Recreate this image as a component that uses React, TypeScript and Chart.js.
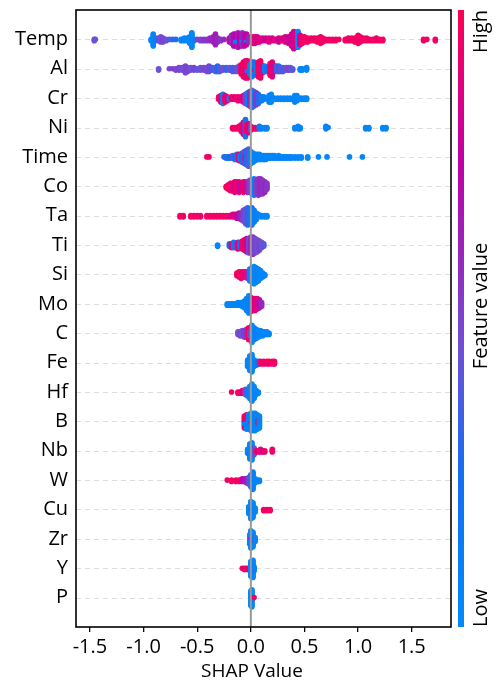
import React, { useEffect, useRef } from "react";
import { Chart, registerables } from "chart.js";

Chart.register(...registerables);

const FONT = '"Open Sans", "DejaVu Sans", sans-serif';

const features = ["Temp", "Al", "Cr", "Ni", "Time", "Co", "Ta", "Ti", "Si", "Mo", "C", "Fe", "Hf", "B", "Nb", "W", "Cu", "Zr", "Y", "P"];
const xTickValues = [-1.5, -1.0, -0.5, 0.0, 0.5, 1.0, 1.5];
const xAxisTitle = "SHAP Value";
const colorbarLabels = ["High", "Feature value", "Low"];

// each entry: [SHAP value, number of samples at that value, normalised feature value 0..1]
const tempPts = [
  [-1.46, 2, 0.45], [-1.45, 1, 0.45],
  [-0.93, 2, 0.05], [-0.91, 10, 0.05], [-0.89, 3, 0.1], [-0.86, 3, 0.4], [-0.84, 5, 0.45], [-0.82, 4, 0.5], [-0.79, 2, 0.45], [-0.76, 1, 0.4], [-0.73, 1, 0.3], [-0.7, 1, 0.3],
  [-0.65, 2, 0.05], [-0.62, 3, 0.05], [-0.59, 3, 0.05], [-0.57, 6, 0.05], [-0.55, 12, 0.05], [-0.53, 2, 0.05],
  [-0.5, 1, 0.5], [-0.47, 2, 0.5], [-0.44, 2, 0.55], [-0.41, 2, 0.55], [-0.38, 3, 0.6], [-0.35, 5, 0.6], [-0.33, 9, 0.65], [-0.31, 4, 0.6], [-0.28, 2, 0.55], [-0.25, 1, 0.6],
  [-0.2, 4, 0.7], [-0.18, 7, 0.6], [-0.16, 10, 0.7], [-0.14, 6, 0.75], [-0.14, 4, 0.1], [-0.12, 8, 0.65], [-0.12, 4, 0.1], [-0.1, 10, 0.75], [-0.08, 8, 0.6], [-0.08, 3, 0.1], [-0.06, 10, 0.7], [-0.04, 6, 0.8], [-0.04, 3, 0.1], [-0.02, 5, 0.6],
  [0.02, 6, 0.85], [0.04, 6, 0.9], [0.06, 5, 0.8], [0.08, 4, 0.9], [0.11, 3, 0.85], [0.14, 3, 0.8], [0.17, 4, 0.9], [0.2, 3, 0.85], [0.23, 2, 0.9], [0.26, 4, 0.8], [0.29, 3, 0.9], [0.32, 5, 0.85], [0.35, 6, 0.8],
  [0.38, 10, 0.85], [0.4, 14, 0.8], [0.42, 12, 0.9], [0.44, 13, 0.05], [0.46, 8, 0.85], [0.48, 6, 0.95],
  [0.5, 5, 0.95], [0.53, 4, 0.95], [0.56, 3, 0.95], [0.59, 3, 0.95], [0.62, 4, 0.95], [0.65, 6, 0.95], [0.67, 4, 0.95], [0.7, 2, 0.95], [0.73, 2, 0.95], [0.76, 2, 0.95], [0.79, 2, 0.95], [0.82, 1, 0.95],
  [0.88, 2, 0.95], [0.91, 3, 0.95], [0.94, 3, 0.95], [0.97, 4, 0.95], [1.0, 7, 0.95], [1.02, 5, 0.95], [1.05, 3, 0.95], [1.08, 3, 0.95], [1.11, 2, 0.95], [1.14, 2, 0.95], [1.17, 3, 0.95], [1.2, 2, 0.95], [1.23, 2, 0.95],
  [1.61, 2, 0.95], [1.64, 1, 0.95], [1.72, 2, 0.95],
];

const alPts = [
  [-0.86, 2, 0.45],
  [-0.76, 1, 0.5], [-0.73, 1, 0.5], [-0.7, 2, 0.5], [-0.67, 3, 0.5], [-0.64, 3, 0.45], [-0.61, 6, 0.5], [-0.59, 4, 0.5], [-0.56, 3, 0.45], [-0.53, 3, 0.5], [-0.5, 2, 0.4],
  [-0.47, 3, 0.45], [-0.44, 3, 0.5], [-0.41, 4, 0.45], [-0.39, 5, 0.5], [-0.36, 3, 0.3], [-0.33, 4, 0.45], [-0.31, 5, 0.25], [-0.29, 4, 0.4], [-0.26, 3, 0.45], [-0.23, 3, 0.3],
  [-0.2, 3, 0.45], [-0.17, 4, 0.35], [-0.14, 4, 0.45], [-0.11, 5, 0.4],
  [-0.09, 8, 0.95], [-0.07, 12, 0.95], [-0.05, 14, 0.9], [-0.03, 10, 0.95], [-0.03, 4, 0.1], [-0.01, 8, 0.1], [0.01, 12, 0.1], [0.03, 8, 0.2], [0.03, 3, 0.9], [0.05, 6, 0.1],
  [0.07, 12, 0.95], [0.09, 14, 0.95], [0.11, 6, 0.9], [0.13, 5, 0.1], [0.15, 4, 0.2], [0.18, 10, 0.95], [0.2, 12, 0.9], [0.22, 5, 0.85],
  [0.24, 5, 0.4], [0.26, 5, 0.3], [0.28, 4, 0.45], [0.3, 4, 0.35], [0.33, 3, 0.45], [0.35, 3, 0.5], [0.37, 3, 0.45], [0.39, 2, 0.4],
  [0.46, 2, 0.1], [0.48, 2, 0.05], [0.52, 3, 0.05],
];

const crPts = [
  [-0.3, 3, 0.95], [-0.28, 6, 0.9], [-0.26, 8, 0.1], [-0.24, 6, 0.95], [-0.22, 4, 0.9], [-0.2, 2, 0.1], [-0.18, 3, 0.95], [-0.15, 3, 0.9], [-0.12, 4, 0.95], [-0.09, 4, 0.85],
  [-0.07, 6, 0.9], [-0.05, 8, 0.5], [-0.03, 10, 0.1], [-0.01, 12, 0.6], [0.01, 14, 0.45], [0.03, 12, 0.1], [0.05, 10, 0.55], [0.07, 8, 0.3],
  [0.1, 4, 0.1], [0.12, 3, 0.1], [0.17, 6, 0.05], [0.19, 7, 0.05], [0.22, 2, 0.05], [0.25, 2, 0.05], [0.28, 2, 0.05], [0.31, 2, 0.05], [0.34, 2, 0.05], [0.37, 2, 0.05],
  [0.41, 6, 0.05], [0.43, 5, 0.05], [0.47, 2, 0.05], [0.5, 2, 0.05], [0.52, 2, 0.05],
];

const niPts = [
  [-0.17, 2, 0.95], [-0.15, 2, 0.95], [-0.13, 2, 0.95], [-0.11, 3, 0.95], [-0.09, 6, 0.95], [-0.07, 10, 0.9], [-0.05, 14, 0.2], [-0.04, 6, 0.95], [-0.02, 8, 0.9], [0.0, 4, 0.5],
  [0.02, 2, 0.95], [0.04, 2, 0.95], [0.06, 2, 0.95], [0.08, 3, 0.1], [0.1, 2, 0.1], [0.13, 2, 0.05], [0.15, 2, 0.05],
  [0.41, 2, 0.05], [0.44, 3, 0.05], [0.46, 2, 0.05], [0.7, 3, 0.05], [0.72, 1, 0.05], [1.07, 2, 0.05], [1.1, 2, 0.05], [1.23, 2, 0.05], [1.26, 2, 0.05],
];

const timePts = [
  [-0.41, 1, 0.95], [-0.39, 1, 0.95],
  [-0.25, 1, 0.3], [-0.23, 2, 0.2], [-0.21, 2, 0.3], [-0.19, 2, 0.25], [-0.17, 3, 0.4], [-0.15, 4, 0.2], [-0.13, 5, 0.3], [-0.11, 6, 0.95], [-0.1, 4, 0.1],
  [-0.08, 8, 0.25], [-0.06, 10, 0.5], [-0.05, 4, 0.95], [-0.04, 12, 0.2], [-0.02, 14, 0.4], [0.0, 10, 0.1], [0.02, 8, 0.05], [0.04, 6, 0.05], [0.06, 5, 0.05],
  [0.08, 5, 0.05], [0.1, 4, 0.05], [0.12, 4, 0.05], [0.14, 4, 0.05], [0.16, 3, 0.05], [0.18, 3, 0.05], [0.2, 3, 0.05], [0.22, 3, 0.05], [0.24, 2, 0.05], [0.26, 3, 0.05],
  [0.28, 2, 0.05], [0.3, 2, 0.05], [0.32, 2, 0.05], [0.34, 2, 0.05], [0.36, 2, 0.05], [0.38, 2, 0.05], [0.41, 2, 0.05], [0.44, 2, 0.05], [0.47, 2, 0.05],
  [0.53, 2, 0.05], [0.63, 1, 0.05], [0.71, 1, 0.05], [0.92, 1, 0.05], [1.04, 1, 0.05],
];

const coPts = [
  [-0.23, 2, 0.95], [-0.21, 4, 0.95], [-0.19, 6, 0.95], [-0.17, 6, 0.9], [-0.15, 8, 0.85], [-0.13, 7, 0.95], [-0.11, 8, 0.9], [-0.09, 6, 0.7], [-0.07, 8, 0.95], [-0.05, 7, 0.85],
  [-0.03, 8, 0.6], [-0.01, 9, 0.5], [0.01, 10, 0.2], [0.03, 12, 0.1], [0.05, 10, 0.5], [0.07, 12, 0.55], [0.09, 11, 0.6], [0.11, 10, 0.55], [0.13, 8, 0.6], [0.15, 5, 0.55],
];

const taPts = [
  [-0.66, 2, 0.95], [-0.63, 2, 0.95], [-0.56, 2, 0.95], [-0.53, 2, 0.95], [-0.5, 2, 0.95], [-0.47, 2, 0.95], [-0.41, 2, 0.95], [-0.38, 2, 0.95], [-0.35, 2, 0.95], [-0.32, 2, 0.95],
  [-0.29, 2, 0.95], [-0.26, 2, 0.95], [-0.23, 2, 0.95], [-0.2, 2, 0.9], [-0.17, 3, 0.85], [-0.15, 3, 0.9], [-0.13, 4, 0.8], [-0.11, 5, 0.7], [-0.09, 6, 0.6],
  [-0.07, 9, 0.5], [-0.05, 12, 0.45], [-0.03, 14, 0.3], [-0.01, 12, 0.15], [0.01, 14, 0.2], [0.03, 10, 0.1], [0.05, 6, 0.1], [0.07, 3, 0.05], [0.1, 2, 0.05], [0.13, 2, 0.05], [0.15, 2, 0.05],
];

const tiPts = [
  [-0.31, 2, 0.05],
  [-0.2, 3, 0.2], [-0.18, 4, 0.95], [-0.16, 5, 0.15], [-0.14, 4, 0.5], [-0.12, 6, 0.9], [-0.1, 5, 0.2], [-0.08, 7, 0.95], [-0.06, 9, 0.9], [-0.04, 11, 0.85],
  [-0.02, 12, 0.5], [0.0, 13, 0.6], [0.02, 14, 0.55], [0.04, 12, 0.5], [0.06, 10, 0.45], [0.08, 8, 0.5], [0.1, 5, 0.45], [0.12, 3, 0.4],
];

const siPts = [
  [-0.13, 3, 0.95], [-0.11, 5, 0.95], [-0.09, 6, 0.95], [-0.07, 5, 0.9], [-0.05, 5, 0.95], [-0.03, 6, 0.6], [-0.01, 10, 0.1],
  [0.01, 12, 0.05], [0.03, 14, 0.05], [0.05, 12, 0.05], [0.07, 10, 0.05], [0.09, 7, 0.05], [0.11, 4, 0.05], [0.13, 2, 0.05],
];

const moPts = [
  [-0.22, 2, 0.05], [-0.2, 2, 0.05], [-0.18, 2, 0.05], [-0.16, 2, 0.05], [-0.14, 2, 0.05], [-0.12, 3, 0.05], [-0.1, 3, 0.05], [-0.08, 4, 0.05], [-0.06, 6, 0.05],
  [-0.04, 10, 0.05], [-0.02, 14, 0.05], [0.0, 12, 0.1], [0.02, 10, 0.95], [0.04, 10, 0.85], [0.06, 9, 0.9], [0.08, 7, 0.7], [0.1, 4, 0.6],
];

const cPts = [
  [-0.12, 3, 0.45], [-0.1, 4, 0.5], [-0.08, 5, 0.45], [-0.06, 6, 0.5], [-0.04, 7, 0.55], [-0.02, 10, 0.95], [-0.01, 4, 0.5],
  [0.01, 14, 0.05], [0.03, 10, 0.05], [0.05, 8, 0.1], [0.07, 6, 0.05], [0.09, 5, 0.05], [0.11, 4, 0.05], [0.13, 3, 0.05], [0.15, 3, 0.05], [0.17, 2, 0.05],
];

const fePts = [
  [-0.03, 6, 0.05], [-0.01, 12, 0.05], [0.01, 14, 0.05], [0.03, 6, 0.05], [0.05, 4, 0.1], [0.07, 3, 0.2],
  [0.09, 3, 0.95], [0.12, 3, 0.95], [0.15, 3, 0.95], [0.17, 3, 0.95], [0.2, 3, 0.95], [0.22, 3, 0.95],
];

const hfPts = [
  [-0.18, 1, 0.95], [-0.12, 2, 0.95], [-0.1, 2, 0.95], [-0.08, 3, 0.9], [-0.05, 5, 0.45], [-0.03, 6, 0.1],
  [-0.01, 10, 0.05], [0.01, 14, 0.05], [0.03, 10, 0.05], [0.05, 4, 0.05], [0.07, 2, 0.05],
];

const bPts = [
  [-0.06, 6, 0.95], [-0.06, 4, 0.1], [-0.04, 6, 0.95], [-0.04, 6, 0.05], [-0.02, 12, 0.05], [0.0, 12, 0.05], [0.0, 2, 0.6],
  [0.02, 14, 0.05], [0.04, 14, 0.05], [0.06, 12, 0.05], [0.07, 4, 0.95], [0.08, 10, 0.05],
];

const nbPts = [
  [-0.03, 4, 0.05], [-0.01, 12, 0.05], [0.01, 14, 0.05], [0.03, 6, 0.4], [0.05, 2, 0.95], [0.07, 2, 0.9], [0.09, 3, 0.95], [0.11, 2, 0.8], [0.13, 2, 0.95], [0.2, 3, 0.95],
];

const wPts = [
  [-0.22, 1, 0.95], [-0.18, 2, 0.95], [-0.14, 2, 0.95], [-0.11, 2, 0.95], [-0.08, 3, 0.75], [-0.06, 3, 0.7], [-0.04, 4, 0.65], [-0.02, 6, 0.5],
  [0.0, 10, 0.3], [0.02, 14, 0.1], [0.04, 4, 0.05], [0.06, 2, 0.05], [0.08, 2, 0.05],
];

const cuPts = [
  [-0.02, 6, 0.05], [0.0, 14, 0.05], [0.01, 1, 0.95], [0.02, 12, 0.05], [0.04, 4, 0.05], [0.12, 2, 0.95], [0.15, 2, 0.95], [0.18, 2, 0.95],
];

const zrPts = [
  [-0.01, 8, 0.05], [0.0, 2, 0.75], [0.0, 12, 0.05], [0.02, 12, 0.05], [0.03, 2, 0.8], [0.04, 4, 0.05],
];

const yPts = [
  [-0.08, 1, 0.95], [-0.06, 2, 0.95], [-0.04, 2, 0.95], [-0.02, 2, 0.9], [0.0, 12, 0.05], [0.02, 14, 0.05], [0.03, 4, 0.1],
];

const pPts = [
  [0.0, 12, 0.05], [0.01, 14, 0.05], [0.03, 1, 0.95],
];

const rowPoints = [tempPts, alPts, crPts, niPts, timePts, coPts, taPts, tiPts, siPts, moPts, cPts, fePts, hfPts, bPts, nbPts, wPts, cuPts, zrPts, yPts, pPts];

const colorStops: [number, number[]][] = [
  [0.0, [0, 139, 250]],
  [0.25, [20, 110, 240]],
  [0.45, [110, 80, 215]],
  [0.6, [150, 40, 190]],
  [0.75, [190, 0, 170]],
  [0.9, [230, 0, 120]],
  [1.0, [255, 0, 82]],
];

function cmap(t: number): string {
  const v = Math.max(0, Math.min(1, t));
  for (let i = 1; i < colorStops.length; i++) {
    const [t1, c1] = colorStops[i];
    const [t0, c0] = colorStops[i - 1];
    if (v <= t1) {
      const f = (v - t0) / (t1 - t0);
      const c = c0.map((a, j) => Math.round(a + (c1[j] - a) * f));
      return `rgb(${c[0]},${c[1]},${c[2]})`;
    }
  }
  return "rgb(255,0,82)";
}

function beeswarm() {
  const pts: { x: number; y: number }[] = [];
  const cols: string[] = [];
  rowPoints.forEach((row, r) => {
    const groups = new Map<string, { x: number; fv: number; k: number }[]>();
    row.forEach(([x, n, fv]) => {
      const key = x.toFixed(3);
      if (!groups.has(key)) groups.set(key, []);
      const g = groups.get(key)!;
      for (let k = 0; k < n; k++) g.push({ x, fv, k });
    });
    let maxLayer = 0;
    groups.forEach((g) => {
      g.sort((a, b) => a.k - b.k);
      maxLayer = Math.max(maxLayer, Math.ceil((g.length - 1) / 2));
    });
    const scale = (0.9 * 0.4) / (maxLayer + 1);
    groups.forEach((g) => {
      g.forEach((p, layer) => {
        const off = Math.ceil(layer / 2) * ((layer % 2) * 2 - 1);
        pts.push({ x: p.x, y: r + off * scale });
        cols.push(cmap(p.fv));
      });
    });
  });
  return { pts, cols };
}

const decor = {
  id: "shapDecor",
  beforeDatasetsDraw(chart: any) {
    const { ctx, chartArea: a, scales } = chart;
    ctx.save();
    ctx.strokeStyle = "#dddddd";
    ctx.lineWidth = 1;
    ctx.setLineDash([5, 4]);
    features.forEach((_, i) => {
      const py = Math.round(scales.y.getPixelForValue(i)) + 0.5;
      ctx.beginPath();
      ctx.moveTo(a.left, py);
      ctx.lineTo(a.right, py);
      ctx.stroke();
    });
    ctx.restore();
  },
  afterDatasetsDraw(chart: any) {
    const { ctx, chartArea: a, scales } = chart;
    const x0 = scales.x.getPixelForValue(0);
    ctx.save();
    ctx.strokeStyle = "#999999";
    ctx.lineWidth = 2;
    ctx.beginPath();
    ctx.moveTo(x0, a.top);
    ctx.lineTo(x0, a.bottom);
    ctx.stroke();
    ctx.restore();
  },
  afterDraw(chart: any) {
    const { ctx, chartArea: a } = chart;
    ctx.save();
    // frame
    ctx.strokeStyle = "#000";
    ctx.lineWidth = 1.6;
    ctx.strokeRect(a.left, a.top, a.right - a.left, a.bottom - a.top);
    // colour bar
    const bx = 458;
    const bw = 6;
    const grad = ctx.createLinearGradient(0, a.bottom, 0, a.top);
    colorStops.forEach(([t, c]) => grad.addColorStop(t, `rgb(${c[0]},${c[1]},${c[2]})`));
    ctx.fillStyle = grad;
    ctx.fillRect(bx, a.top, bw, a.bottom - a.top);
    // colour bar labels
    ctx.fillStyle = "#000";
    ctx.font = `20px ${FONT}`;
    ctx.textBaseline = "middle";
    const lx = 481;
    ctx.save();
    ctx.translate(lx, a.top);
    ctx.rotate(-Math.PI / 2);
    ctx.textAlign = "right";
    ctx.fillText(colorbarLabels[0], 0, 0);
    ctx.restore();
    ctx.save();
    ctx.translate(lx, 306);
    ctx.rotate(-Math.PI / 2);
    ctx.textAlign = "center";
    ctx.fillText(colorbarLabels[1], 0, 0);
    ctx.restore();
    ctx.save();
    ctx.translate(lx, a.bottom);
    ctx.rotate(-Math.PI / 2);
    ctx.textAlign = "left";
    ctx.fillText(colorbarLabels[2], 0, 0);
    ctx.restore();
    // x axis title
    ctx.font = `19px ${FONT}`;
    ctx.textAlign = "center";
    ctx.textBaseline = "middle";
    ctx.fillText(xAxisTitle, 252, 672);
    ctx.restore();
  },
};

export default function App() {
  const ref = useRef<HTMLCanvasElement>(null);
  useEffect(() => {
    const { pts, cols } = beeswarm();
    const chart = new Chart(ref.current as HTMLCanvasElement, {
      type: "scatter",
      data: {
        datasets: [
          {
            data: pts,
            pointBackgroundColor: cols,
            pointBorderWidth: 0,
            pointRadius: 2.8,
            pointHoverRadius: 2.8,
          },
        ],
      },
      options: {
        responsive: false,
        animation: false,
        events: [],
        layout: { padding: { top: 10, right: 44, left: 0, bottom: 0 } },
        plugins: { legend: { display: false }, tooltip: { enabled: false } },
        scales: {
          x: {
            type: "linear",
            min: -1.63,
            max: 1.866,
            afterBuildTicks: (s: any) => {
              s.ticks = xTickValues.map((v) => ({ value: v }));
            },
            afterFit: (s: any) => {
              s.height = 58;
              s.paddingLeft = 0;
              s.paddingRight = 0;
              s.paddingTop = 0;
              s.paddingBottom = 0;
            },
            ticks: {
              autoSkip: false,
              maxRotation: 0,
              padding: 3,
              color: "#000",
              font: { family: FONT, size: 20 },
              callback: (v: any) => Number(v).toFixed(1),
            },
            grid: { display: true, drawOnChartArea: false, drawTicks: true, tickLength: 5, color: "#000", lineWidth: 1.3 },
            border: { display: false },
          },
          y: {
            type: "linear",
            min: -1,
            max: 20,
            reverse: true,
            afterBuildTicks: (s: any) => {
              s.ticks = features.map((_, i) => ({ value: i }));
            },
            afterFit: (s: any) => {
              s.width = 76;
              s.paddingLeft = 0;
              s.paddingRight = 0;
              s.paddingTop = 0;
              s.paddingBottom = 0;
            },
            ticks: {
              autoSkip: false,
              padding: 8,
              color: "#000",
              font: { family: FONT, size: 20 },
              callback: (v: any) => features[Math.round(Number(v))],
            },
            grid: { display: false, drawTicks: false },
            border: { display: false },
          },
        },
      },
      plugins: [decor],
    });
    return () => chart.destroy();
  }, []);
  return (
    <div style={{ position: "absolute", left: 0, top: 0, width: 495, height: 685, background: "#fff" }}>
      <canvas ref={ref} width={495} height={685} style={{ display: "block", width: 495, height: 685 }} />
    </div>
  );
}
